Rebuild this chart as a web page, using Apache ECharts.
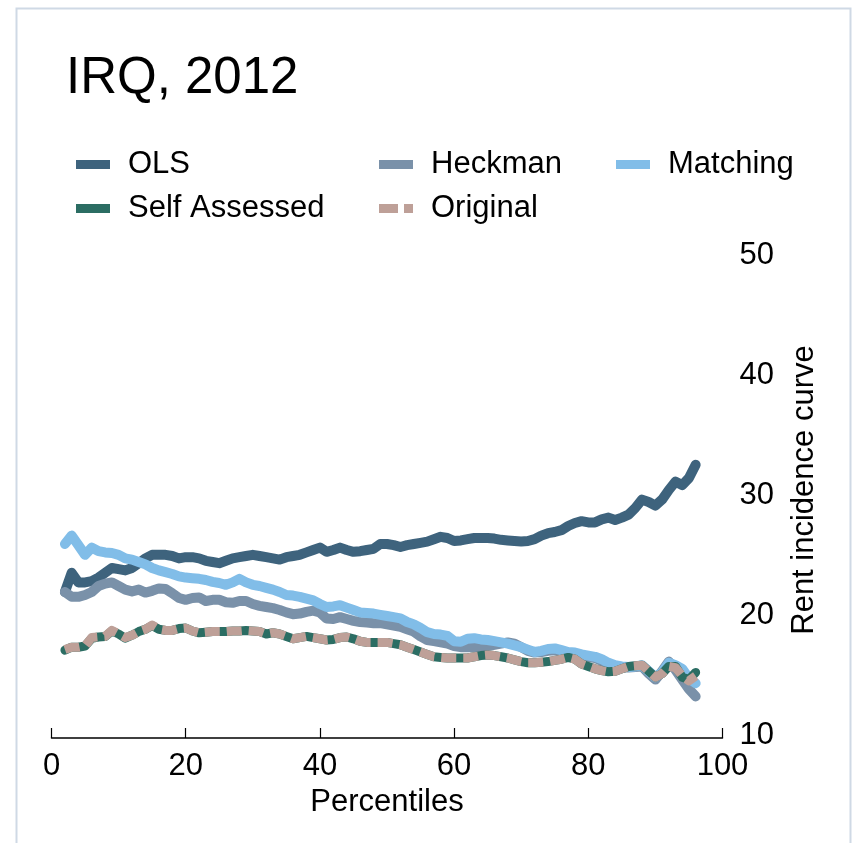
<!DOCTYPE html>
<html>
<head>
<meta charset="utf-8">
<title>IRQ, 2012 – Rent incidence curve</title>
<script src="https://cdn.jsdelivr.net/npm/echarts@6/dist/echarts.min.js"></script>
<style>
  html, body { margin: 0; padding: 0; background: #ffffff; }
  #chart { width: 858px; height: 843px; }
</style>
</head>
<body>
<div id="chart"></div>
<script>
// Percentiles of the distribution (x positions shared by every curve)
const percentiles = [
   2,  3,  4,  5,  6,  7,  8,  9, 10, 11, 12, 13, 14, 15, 16, 17, 18, 19, 20, 21,
  22, 23, 24, 25, 26, 27, 28, 29, 30, 31, 32, 33, 34, 35, 36, 37, 38, 39, 40, 41,
  42, 43, 44, 45, 46, 47, 48, 49, 50, 51, 52, 53, 54, 55, 56, 57, 58, 59, 60, 61,
  62, 63, 64, 65, 66, 67, 68, 69, 70, 71, 72, 73, 74, 75, 76, 77, 78, 79, 80, 81,
  82, 83, 84, 85, 86, 87, 88, 89, 90, 91, 92, 93, 94, 95, 96
];

// Rent incidence by estimation method
const olsValues = [
  21.5, 23.1, 22.3, 22.3, 22.4, 22.7, 23.1, 23.5, 23.4, 23.3, 23.5, 23.9, 24.3, 24.6, 24.6, 24.6, 24.5, 24.3, 24.4, 24.4,
  24.3, 24.1, 24.0, 23.9, 24.1, 24.3, 24.4, 24.5, 24.6, 24.5, 24.4, 24.3, 24.2, 24.4, 24.5, 24.6, 24.8, 25.0, 25.2, 24.85,
  25.0, 25.2, 25.0, 24.85, 24.9, 25.0, 25.1, 25.5, 25.5, 25.4, 25.25, 25.4, 25.5, 25.6, 25.7, 25.9, 26.1, 26.0, 25.75, 25.8,
  25.9, 26.0, 26.0, 26.0, 25.95, 25.85, 25.8, 25.75, 25.7, 25.75, 25.9, 26.2, 26.4, 26.5, 26.65, 27.0, 27.25, 27.4, 27.3, 27.3,
  27.55, 27.7, 27.5, 27.7, 27.95, 28.5, 29.2, 29.0, 28.7, 29.2, 30.0, 30.7, 30.4, 31.0, 32.1
];

const heckmanValues = [
  21.5, 21.1, 21.1, 21.25, 21.5, 22.0, 22.2, 22.3, 22.0, 21.7, 21.55, 21.7, 21.45, 21.6, 21.8, 21.75, 21.4, 21.0, 20.85, 21.0,
  21.05, 20.75, 20.85, 20.85, 20.65, 20.6, 20.75, 20.75, 20.5, 20.35, 20.25, 20.15, 20.0, 19.8, 19.65, 19.7, 19.85, 19.95, 19.8, 19.3,
  19.25, 19.4, 19.25, 19.1, 19.0, 18.95, 18.9, 18.9, 18.8, 18.7, 18.6, 18.4, 18.2, 17.8, 17.5, 17.4, 17.3, 17.2, 17.0, 16.9,
  16.9, 16.9, 16.85, 17.0, 17.1, 17.2, 17.3, 17.2, 16.9, 16.6, 16.45, 16.5, 16.6, 16.65, 16.5, 16.4, 16.35, 16.2, 16.1, 16.0,
  15.75, 15.45, 15.3, 15.2, 15.2, 15.25, 15.3, 14.7, 14.2, 14.9, 15.7, 15.0, 14.2, 13.4, 12.8
];

const matchingValues = [
  25.5, 26.2, 25.4, 24.6, 25.2, 24.9, 24.8, 24.75, 24.6, 24.3, 24.2, 24.0, 23.8, 23.5, 23.3, 23.15, 23.0, 22.8, 22.7, 22.65,
  22.6, 22.5, 22.35, 22.25, 22.1, 22.3, 22.6, 22.3, 22.1, 22.0, 21.85, 21.7, 21.5, 21.25, 21.2, 21.1, 20.95, 20.8, 20.5, 20.25,
  20.3, 20.4, 20.2, 20.0, 19.8, 19.75, 19.7, 19.6, 19.5, 19.4, 19.3, 19.0, 18.8, 18.5, 18.15, 18.0, 17.95, 17.85, 17.4, 17.35,
  17.6, 17.65, 17.55, 17.5, 17.4, 17.3, 17.2, 17.05, 16.9, 16.7, 16.5, 16.6, 16.75, 16.8, 16.65, 16.5, 16.45, 16.3, 16.2, 16.1,
  15.9, 15.6, 15.4, 15.3, 15.25, 15.3, 15.4, 14.9, 14.4, 14.8, 15.6, 15.4, 15.1, 14.3, 13.9
];

const selfAssessedValues = [
  16.65, 16.9, 16.9, 17.0, 17.65, 17.75, 17.8, 18.25, 18.0, 17.65, 17.9, 18.2, 18.4, 18.7, 18.4, 18.3, 18.3, 18.45, 18.5, 18.25,
  18.1, 18.15, 18.2, 18.2, 18.2, 18.25, 18.25, 18.3, 18.25, 18.2, 18.0, 18.1, 18.0, 17.8, 17.6, 17.7, 17.8, 17.7, 17.6, 17.5,
  17.55, 17.7, 17.75, 17.6, 17.4, 17.3, 17.3, 17.3, 17.3, 17.2, 17.1, 16.9, 16.7, 16.5, 16.3, 16.1, 16.05, 16.0, 16.0, 16.0,
  16.0, 16.1, 16.2, 16.25, 16.2, 16.1, 16.0, 15.85, 15.7, 15.6, 15.6, 15.65, 15.7, 15.8, 15.9, 16.05, 15.9, 15.5, 15.3, 15.1,
  14.95, 14.85, 14.9, 15.1, 15.3, 15.35, 15.4, 14.9, 14.4, 14.7, 15.3, 15.3, 14.4, 14.2, 14.8
];

const originalValues = [
  16.7, 16.9, 16.9, 17.0, 17.7, 17.75, 17.8, 18.3, 18.0, 17.7, 17.9, 18.2, 18.4, 18.75, 18.4, 18.3, 18.3, 18.45, 18.5, 18.25,
  18.1, 18.15, 18.2, 18.2, 18.2, 18.25, 18.25, 18.3, 18.25, 18.2, 18.0, 18.1, 18.0, 17.8, 17.6, 17.7, 17.8, 17.7, 17.6, 17.5,
  17.55, 17.7, 17.75, 17.6, 17.4, 17.3, 17.3, 17.3, 17.3, 17.2, 17.1, 16.9, 16.7, 16.5, 16.3, 16.1, 16.05, 16.0, 16.0, 16.0,
  16.0, 16.1, 16.2, 16.25, 16.2, 16.1, 16.0, 15.85, 15.7, 15.6, 15.6, 15.65, 15.7, 15.8, 15.9, 16.05, 15.9, 15.5, 15.3, 15.1,
  14.95, 14.85, 14.9, 15.1, 15.3, 15.35, 15.4, 14.9, 14.4, 14.7, 15.3, 15.2, 14.5, 14.1, 14.5
];

const FONT = '"Liberation Sans", Arial, Helvetica, sans-serif';

const colors = {
  ols: '#3e637d',
  heckman: '#7a91a9',
  matching: '#81bde8',
  selfAssessed: '#2b6d63',
  original: '#bea098'
};

function pairs(values) {
  return percentiles.map((p, i) => [p, values[i]]);
}

function lineSeries(name, values, color, width, extra) {
  return Object.assign({
    name: name,
    type: 'line',
    data: pairs(values),
    symbol: 'none',
    color: color,
    lineStyle: { color: color, width: width, cap: 'round', join: 'round' },
    emphasis: { disabled: true },
    animation: false
  }, extra || {});
}

const legendText = {
  fontFamily: FONT,
  fontSize: 31,
  color: '#000000',
  padding: [0, 0, 0, 13]
};

function legendColumn(left, names) {
  return {
    orient: 'vertical',
    left: left,
    top: 149,
    padding: 0,
    itemGap: 13,
    itemWidth: 34,
    itemHeight: 9,
    icon: 'rect',
    selectedMode: false,
    textStyle: legendText,
    data: names
  };
}

const chart = echarts.init(document.getElementById('chart'), null, { renderer: 'canvas' });

chart.setOption({
  backgroundColor: '#ffffff',
  animation: false,
  title: {
    text: 'IRQ, 2012',
    left: 66,
    top: 53,
    padding: 0,
    textStyle: { fontFamily: FONT, fontSize: 51, fontWeight: 'normal', color: '#000000' }
  },
  legend: [
    legendColumn(76, ['OLS', 'Self Assessed']),
    legendColumn(379, ['Heckman', { name: 'Original', icon: 'path://M0,0H19V9H0Z M25,0H34V9H25Z' }]),
    legendColumn(616, ['Matching'])
  ],
  graphic: [{
    type: 'rect',
    silent: true,
    shape: { x: 16.5, y: 8.5, width: 834, height: 900 },
    style: { fill: null, stroke: '#cfd9e5', lineWidth: 2 }
  }],
  grid: { left: 51.5, right: 135.5, top: 250, bottom: 113, containLabel: false },
  xAxis: {
    type: 'value',
    min: 0,
    max: 100,
    interval: 20,
    offset: 8,
    name: 'Percentiles',
    nameLocation: 'middle',
    nameGap: 30,
    nameTextStyle: { fontFamily: FONT, fontSize: 31, color: '#000000' },
    axisLine: { show: true, lineStyle: { color: '#000000', width: 1.5 } },
    axisTick: { show: true, inside: true, length: 10, lineStyle: { color: '#000000', width: 1.2 } },
    axisLabel: { fontFamily: FONT, fontSize: 31, color: '#000000', margin: 13 },
    splitLine: { show: false }
  },
  yAxis: {
    type: 'value',
    position: 'right',
    min: 10,
    max: 50,
    interval: 10,
    name: 'Rent incidence curve',
    nameLocation: 'middle',
    nameRotate: 90,
    nameGap: 66,
    nameTextStyle: { fontFamily: FONT, fontSize: 31, color: '#000000' },
    axisLine: { show: false },
    axisTick: { show: false },
    axisLabel: {
      margin: 17,
      formatter: '{v|{value}}',
      rich: {
        v: { fontFamily: FONT, fontSize: 31, color: '#000000', padding: [11, 0, 0, 0] }
      }
    },
    splitLine: { show: false }
  },
  series: [
    lineSeries('OLS', olsValues, colors.ols, 10),
    lineSeries('Heckman', heckmanValues, colors.heckman, 10),
    lineSeries('Matching', matchingValues, colors.matching, 10),
    lineSeries('Self Assessed', selfAssessedValues, colors.selfAssessed, 9),
    lineSeries('Original', originalValues, colors.original, 9, {
      lineStyle: { color: colors.original, width: 9, type: [15, 7], cap: 'butt', join: 'round' }
    })
  ]
});
</script>
</body>
</html>
